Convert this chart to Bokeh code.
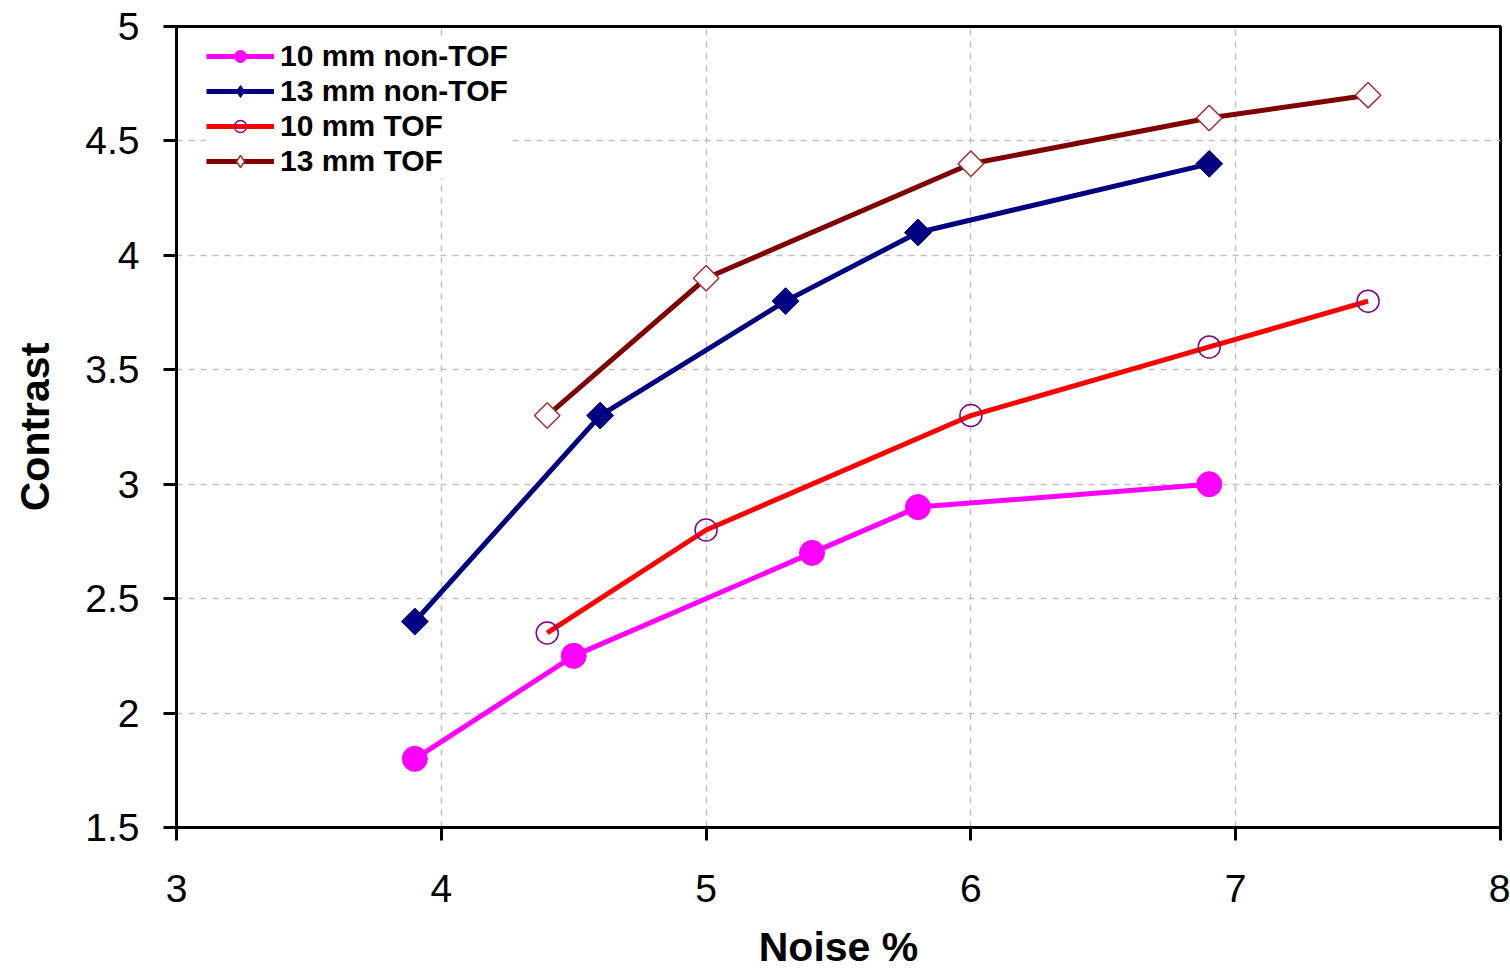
import math
from bokeh.plotting import figure
from bokeh.models import Range1d, FixedTicker, Legend, LegendItem
from bokeh.embed import file_html
from bokeh.resources import INLINE

# ---- data ----
x_10_nontof = [3.9, 4.5, 5.4, 5.8, 6.9]
y_10_nontof = [1.8, 2.25, 2.7, 2.9, 3.0]

x_13_nontof = [3.9, 4.6, 5.3, 5.8, 6.9]
y_13_nontof = [2.4, 3.3, 3.8, 4.1, 4.4]

x_10_tof = [4.4, 5.0, 6.0, 6.9, 7.5]
y_10_tof = [2.35, 2.8, 3.3, 3.6, 3.8]

x_13_tof = [4.4, 5.0, 6.0, 6.9, 7.5]
y_13_tof = [3.3, 3.9, 4.4, 4.6, 4.7]

x_ticks = [3, 4, 5, 6, 7, 8]
y_ticks = [1.5, 2, 2.5, 3, 3.5, 4, 4.5, 5]
y_tick_labels = ["1.5", "2", "2.5", "3", "3.5", "4", "4.5", "5"]

series_labels = ["10 mm non-TOF", "13 mm non-TOF", "10 mm TOF", "13 mm TOF"]
x_label = "Noise %"
y_label = "Contrast"

FONT = "Liberation Sans"

p = figure(width=1510, height=972, output_backend="svg", toolbar_location=None,
           x_range=Range1d(3, 8), y_range=Range1d(1.5, 5),
           min_border_left=176, min_border_right=10, min_border_top=26,
           min_border_bottom=144)
p.background_fill_color = "white"
p.border_fill_color = "white"
p.outline_line_color = "black"
p.outline_line_width = 3

for ax in (p.xaxis[0], p.yaxis[0]):
    ax.axis_line_color = "black"
    ax.axis_line_width = 3
    ax.major_tick_line_color = "black"
    ax.major_tick_line_width = 3
    ax.major_tick_in = 0
    ax.major_tick_out = 13
    ax.minor_tick_line_color = None
    ax.major_label_text_font = FONT
    ax.major_label_text_font_size = "39px"
    ax.major_label_text_color = "black"
    ax.axis_label_text_font = FONT
    ax.axis_label_text_font_size = "41px"
    ax.axis_label_text_font_style = "bold"
    ax.axis_label_text_color = "black"

p.xaxis.ticker = FixedTicker(ticks=x_ticks)
p.yaxis.ticker = FixedTicker(ticks=y_ticks)
p.yaxis.major_label_overrides = {t: l for t, l in zip(y_ticks, y_tick_labels)}
p.xaxis.major_label_standoff = 34
p.yaxis.major_label_standoff = 24
p.xaxis.axis_label = x_label
p.yaxis.axis_label = y_label
p.xaxis.axis_label_standoff = 19
p.yaxis.axis_label_standoff = 24

for g in (p.xgrid[0], p.ygrid[0]):
    g.grid_line_color = "#c0c0c0"
    g.grid_line_dash = "6 6"
    g.grid_line_width = 1.5

lw = 5
rot = math.pi / 4
l1 = p.line(x_10_nontof, y_10_nontof, line_color="#ff00ff", line_width=lw)
s1 = p.scatter(x_10_nontof, y_10_nontof, marker="circle", size=25,
               fill_color="#ff00ff", line_color="#ff00ff")

l2 = p.line(x_13_nontof, y_13_nontof, line_color="#000080", line_width=lw)
# diamond glyph (used for the legend swatch), covered by the rotated square
d2 = p.scatter(x_13_nontof, y_13_nontof, marker="diamond", size=20,
               fill_color="#000080", line_color="#000080")
s2 = p.scatter(x_13_nontof, y_13_nontof, marker="square", angle=rot, size=19,
               fill_color="#000080", line_color="#000080")

l3 = p.line(x_10_tof, y_10_tof, line_color="#ff0000", line_width=lw)
s3 = p.scatter(x_10_tof, y_10_tof, marker="circle", size=22,
               fill_color="white", fill_alpha=0.0, line_color="#800080",
               line_width=1.5)

l4 = p.line(x_13_tof, y_13_tof, line_color="#800000", line_width=lw)
d4 = p.scatter(x_13_tof, y_13_tof, marker="diamond", size=20,
               fill_color="white", line_color="#a03030", line_width=1.5)
s4 = p.scatter(x_13_tof, y_13_tof, marker="square", angle=rot, size=18,
               fill_color="white", line_color="#a03030", line_width=1.5)

legend = Legend(items=[
    LegendItem(label=series_labels[0], renderers=[l1, s1]),
    LegendItem(label=series_labels[1], renderers=[l2, d2]),
    LegendItem(label=series_labels[2], renderers=[l3, s3]),
    LegendItem(label=series_labels[3], renderers=[l4, d4]),
], location=(30, 649))
legend.margin = 0
legend.padding = 4
legend.spacing = 1
legend.glyph_width = 68
legend.glyph_height = 30
legend.label_height = 30
legend.label_standoff = 6
legend.label_text_font = FONT
legend.label_text_font_size = "30px"
legend.label_text_font_style = "bold"
legend.label_text_color = "black"
legend.border_line_color = None
legend.background_fill_color = "white"
legend.background_fill_alpha = 1.0
p.add_layout(legend)

open("out.html", "w").write(file_html(p, INLINE))
